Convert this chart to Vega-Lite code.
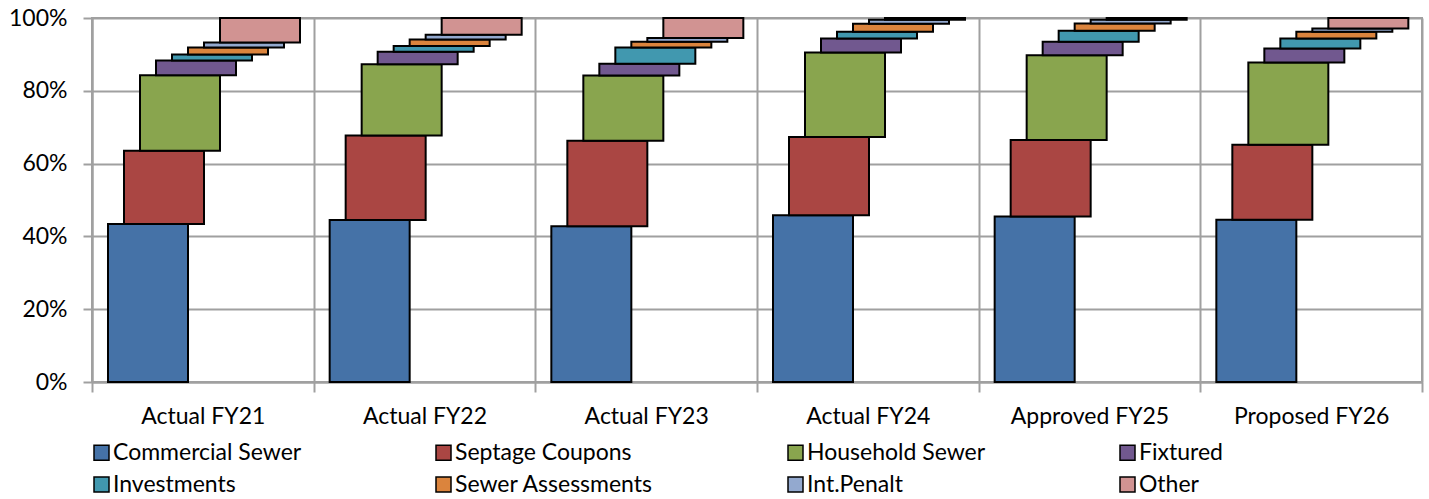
{
  "$schema": "https://vega.github.io/schema/vega-lite/v6.json",
  "width": 1330,
  "height": 364,
  "autosize": "none",
  "padding": {"left": 92, "top": 18, "right": 7, "bottom": 117},
  "background": "white",
  "config": {
    "font": "Lato",
    "view": {"stroke": "#a0a0a0", "strokeWidth": 2},
    "axis": {"labelFont": "Lato", "labelFontSize": 23, "labelColor": "black", "gridColor": "#a0a0a0", "gridWidth": 2, "domainColor": "#a0a0a0", "domainWidth": 2, "tickColor": "#a0a0a0", "tickWidth": 2}
  },
  "data": {"values": [
    {"period": "Actual FY21", "source": "Commercial Sewer", "lo": 0, "hi": 43.4},
    {"period": "Actual FY21", "source": "Septage Coupons", "lo": 43.4, "hi": 63.5},
    {"period": "Actual FY21", "source": "Household Sewer", "lo": 63.5, "hi": 84.3},
    {"period": "Actual FY21", "source": "Fixtured", "lo": 84.3, "hi": 88.3},
    {"period": "Actual FY21", "source": "Investments", "lo": 88.3, "hi": 90.0},
    {"period": "Actual FY21", "source": "Sewer Assessments", "lo": 90.0, "hi": 91.9},
    {"period": "Actual FY21", "source": "Int.Penalt", "lo": 91.9, "hi": 93.3},
    {"period": "Actual FY21", "source": "Other", "lo": 93.3, "hi": 100},
    {"period": "Actual FY22", "source": "Commercial Sewer", "lo": 0, "hi": 44.5},
    {"period": "Actual FY22", "source": "Septage Coupons", "lo": 44.5, "hi": 67.7},
    {"period": "Actual FY22", "source": "Household Sewer", "lo": 67.7, "hi": 87.3},
    {"period": "Actual FY22", "source": "Fixtured", "lo": 87.3, "hi": 90.7},
    {"period": "Actual FY22", "source": "Investments", "lo": 90.7, "hi": 92.3},
    {"period": "Actual FY22", "source": "Sewer Assessments", "lo": 92.3, "hi": 94.1},
    {"period": "Actual FY22", "source": "Int.Penalt", "lo": 94.1, "hi": 95.4},
    {"period": "Actual FY22", "source": "Other", "lo": 95.4, "hi": 100},
    {"period": "Actual FY23", "source": "Commercial Sewer", "lo": 0, "hi": 42.8},
    {"period": "Actual FY23", "source": "Septage Coupons", "lo": 42.8, "hi": 66.3},
    {"period": "Actual FY23", "source": "Household Sewer", "lo": 66.3, "hi": 84.2},
    {"period": "Actual FY23", "source": "Fixtured", "lo": 84.2, "hi": 87.4},
    {"period": "Actual FY23", "source": "Investments", "lo": 87.4, "hi": 91.9},
    {"period": "Actual FY23", "source": "Sewer Assessments", "lo": 91.9, "hi": 93.5},
    {"period": "Actual FY23", "source": "Int.Penalt", "lo": 93.5, "hi": 94.5},
    {"period": "Actual FY23", "source": "Other", "lo": 94.5, "hi": 100},
    {"period": "Actual FY24", "source": "Commercial Sewer", "lo": 0, "hi": 45.8},
    {"period": "Actual FY24", "source": "Septage Coupons", "lo": 45.8, "hi": 67.3},
    {"period": "Actual FY24", "source": "Household Sewer", "lo": 67.3, "hi": 90.5},
    {"period": "Actual FY24", "source": "Fixtured", "lo": 90.5, "hi": 94.4},
    {"period": "Actual FY24", "source": "Investments", "lo": 94.4, "hi": 96.2},
    {"period": "Actual FY24", "source": "Sewer Assessments", "lo": 96.2, "hi": 98.4},
    {"period": "Actual FY24", "source": "Int.Penalt", "lo": 98.4, "hi": 99.5},
    {"period": "Actual FY24", "source": "Other", "lo": 99.5, "hi": 100},
    {"period": "Approved FY25", "source": "Commercial Sewer", "lo": 0, "hi": 45.5},
    {"period": "Approved FY25", "source": "Septage Coupons", "lo": 45.5, "hi": 66.5},
    {"period": "Approved FY25", "source": "Household Sewer", "lo": 66.5, "hi": 89.8},
    {"period": "Approved FY25", "source": "Fixtured", "lo": 89.8, "hi": 93.5},
    {"period": "Approved FY25", "source": "Investments", "lo": 93.5, "hi": 96.5},
    {"period": "Approved FY25", "source": "Sewer Assessments", "lo": 96.5, "hi": 98.5},
    {"period": "Approved FY25", "source": "Int.Penalt", "lo": 98.5, "hi": 99.5},
    {"period": "Approved FY25", "source": "Other", "lo": 99.5, "hi": 100},
    {"period": "Proposed FY26", "source": "Commercial Sewer", "lo": 0, "hi": 44.6},
    {"period": "Proposed FY26", "source": "Septage Coupons", "lo": 44.6, "hi": 65.2},
    {"period": "Proposed FY26", "source": "Household Sewer", "lo": 65.2, "hi": 87.8},
    {"period": "Proposed FY26", "source": "Fixtured", "lo": 87.8, "hi": 91.6},
    {"period": "Proposed FY26", "source": "Investments", "lo": 91.6, "hi": 94.4},
    {"period": "Proposed FY26", "source": "Sewer Assessments", "lo": 94.4, "hi": 96.2},
    {"period": "Proposed FY26", "source": "Int.Penalt", "lo": 96.2, "hi": 97.1},
    {"period": "Proposed FY26", "source": "Other", "lo": 97.1, "hi": 100}
  ]},
  "mark": {"type": "bar", "width": 80, "stroke": "black", "strokeWidth": 2},
  "encoding": {
    "x": {
      "field": "period", "type": "nominal", "sort": null,
      "scale": {"paddingInner": 0, "paddingOuter": 0},
      "axis": {"title": null, "labelAngle": 0, "grid": true, "bandPosition": 0, "tickBand": "extent", "tickSize": 10, "labelPadding": 13}
    },
    "xOffset": {
      "field": "source", "type": "nominal",
      "scale": {"type": "point", "padding": 0, "range": [56, 168],
        "domain": ["Commercial Sewer", "Septage Coupons", "Household Sewer", "Fixtured", "Investments", "Sewer Assessments", "Int.Penalt", "Other"]}
    },
    "y": {
      "field": "lo", "type": "quantitative",
      "scale": {"domain": [0, 100], "nice": false},
      "axis": {"title": null, "values": [0, 20, 40, 60, 80, 100], "labelExpr": "datum.value + '%'", "tickSize": 9, "labelPadding": 16}
    },
    "y2": {"field": "hi"},
    "color": {
      "field": "source", "type": "nominal",
      "scale": {
        "domain": ["Commercial Sewer", "Septage Coupons", "Household Sewer", "Fixtured", "Investments", "Sewer Assessments", "Int.Penalt", "Other"],
        "range": ["#4572A7", "#AA4643", "#89A54E", "#71588F", "#4198AF", "#DB843D", "#93A9CF", "#D19392"]
      },
      "legend": {
        "title": null, "orient": "none", "legendX": -2, "legendY": 423, "direction": "horizontal", "columns": 4,
        "symbolType": "square", "symbolSize": 225, "symbolStrokeColor": "black", "symbolStrokeWidth": 1.5,
        "labelFont": "Lato", "labelFontSize": 23, "labelColor": "black", "labelLimit": 400,
        "columnPadding": 130, "rowPadding": 8, "symbolOffset": 0, "labelOffset": 0
      }
    }
  }
}
